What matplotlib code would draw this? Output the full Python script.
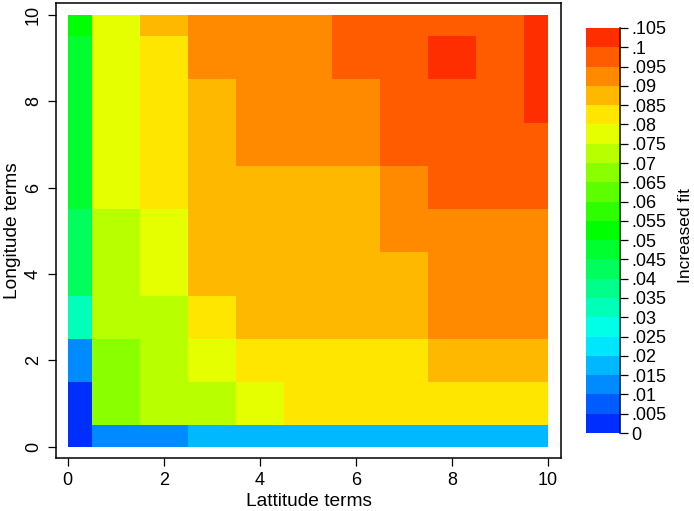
import matplotlib
matplotlib.use("Agg")
import matplotlib.pyplot as plt
from matplotlib.colors import ListedColormap, BoundaryNorm

plt.rcParams['font.family'] = ['Liberation Sans', 'DejaVu Sans']

W, H = 694, 511

# cell edges: the outer cells are cut in half at 0 and 10
lat_edges = [0, .5, 1.5, 2.5, 3.5, 4.5, 5.5, 6.5, 7.5, 8.5, 9.5, 10]
lon_edges = [0, .5, 1.5, 2.5, 3.5, 4.5, 5.5, 6.5, 7.5, 8.5, 9.5, 10]

# increased fit, one row per longitude term (0 to 10), read to the middle of each colour band
row_0 = [.0025, .0125, .0125, .0175, .0175, .0175, .0175, .0175, .0175, .0175, .0175]
row_1 = [.0025, .0675, .0725, .0725, .0775, .0825, .0825, .0825, .0825, .0825, .0825]
row_2 = [.0125, .0675, .0725, .0775, .0825, .0825, .0825, .0825, .0875, .0875, .0875]
row_3 = [.0325, .0725, .0725, .0825, .0875, .0875, .0875, .0875, .0925, .0925, .0925]
row_4 = [.0425, .0725, .0775, .0875, .0875, .0875, .0875, .0875, .0925, .0925, .0925]
row_5 = [.0425, .0725, .0775, .0875, .0875, .0875, .0875, .0925, .0925, .0925, .0925]
row_6 = [.0475, .0775, .0825, .0875, .0875, .0875, .0875, .0925, .0975, .0975, .0975]
row_7 = [.0475, .0775, .0825, .0875, .0925, .0925, .0925, .0975, .0975, .0975, .0975]
row_8 = [.0475, .0775, .0825, .0875, .0925, .0925, .0925, .0975, .0975, .0975, .1025]
row_9 = [.0475, .0775, .0825, .0925, .0925, .0925, .0975, .0975, .1025, .0975, .1025]
row_10 = [.0525, .0775, .0875, .0925, .0925, .0925, .0975, .0975, .0975, .0975, .1025]
fit = [row_0, row_1, row_2, row_3, row_4, row_5, row_6, row_7, row_8, row_9, row_10]

levels = [i * .005 for i in range(22)]
level_labels = ['0', '.005', '.01', '.015', '.02', '.025', '.03', '.035', '.04', '.045', '.05',
                '.055', '.06', '.065', '.07', '.075', '.08', '.085', '.09', '.095', '.1', '.105']
band_colors = ['#002EFF', '#005CFF', '#008AFF', '#00B8FF', '#00E6FF', '#00FFE6', '#00FFB8',
               '#00FF8A', '#00FF5C', '#00FF2E', '#00FF00', '#2EFF00', '#5CFF00', '#8AFF00',
               '#B8FF00', '#E6FF00', '#FFE600', '#FFB800', '#FF8A00', '#FF5C00', '#FF2E00']

cmap = ListedColormap(band_colors)
norm = BoundaryNorm(levels, cmap.N)


# axes position from pixel box, y counted from the top of the image
def box(left, top, right, bottom):
    return [left / W, 1 - bottom / H, (right - left) / W, (bottom - top) / H]


fig = plt.figure(figsize=(W / 100, H / 100), dpi=100)
ax = fig.add_axes(box(56, 3, 561, 458))
mesh = ax.pcolormesh(lat_edges, lon_edges, fit, cmap=cmap, norm=norm, linewidth=0, antialiased=False)

ax.set_xlim(-.24, 10.27)
ax.set_ylim(-.26, 10.27)
ax.set_xticks([0, 2, 4, 6, 8, 10])
ax.set_yticks([0, 2, 4, 6, 8, 10])
ax.tick_params(axis='both', length=6, width=.9, labelsize=13, pad=4)
ax.tick_params(axis='y', labelrotation=90, pad=4)
for lab in ax.get_yticklabels():
    lab.set_va('center')
for s in ax.spines.values():
    s.set_linewidth(1.1)
ax.set_xlabel('Lattitude terms', fontsize=13.8, labelpad=3)
ax.set_ylabel('Longitude terms', fontsize=13.8, labelpad=3)

cax = fig.add_axes(box(586, 28, 620, 433))
cb = fig.colorbar(mesh, cax=cax, ticks=levels, spacing='proportional', drawedges=False)
cb.ax.set_yticklabels(level_labels)
cb.ax.tick_params(length=6, width=.9, labelsize=13, pad=2)
cb.outline.set_visible(False)
cax.spines['right'].set_visible(True)
cax.spines['right'].set_linewidth(1.1)
fig.text(685 / W, 1 - 236 / H, 'Increased fit', rotation=90, fontsize=12.5, ha='center', va='center')

fig.savefig('out.png', dpi=100)
